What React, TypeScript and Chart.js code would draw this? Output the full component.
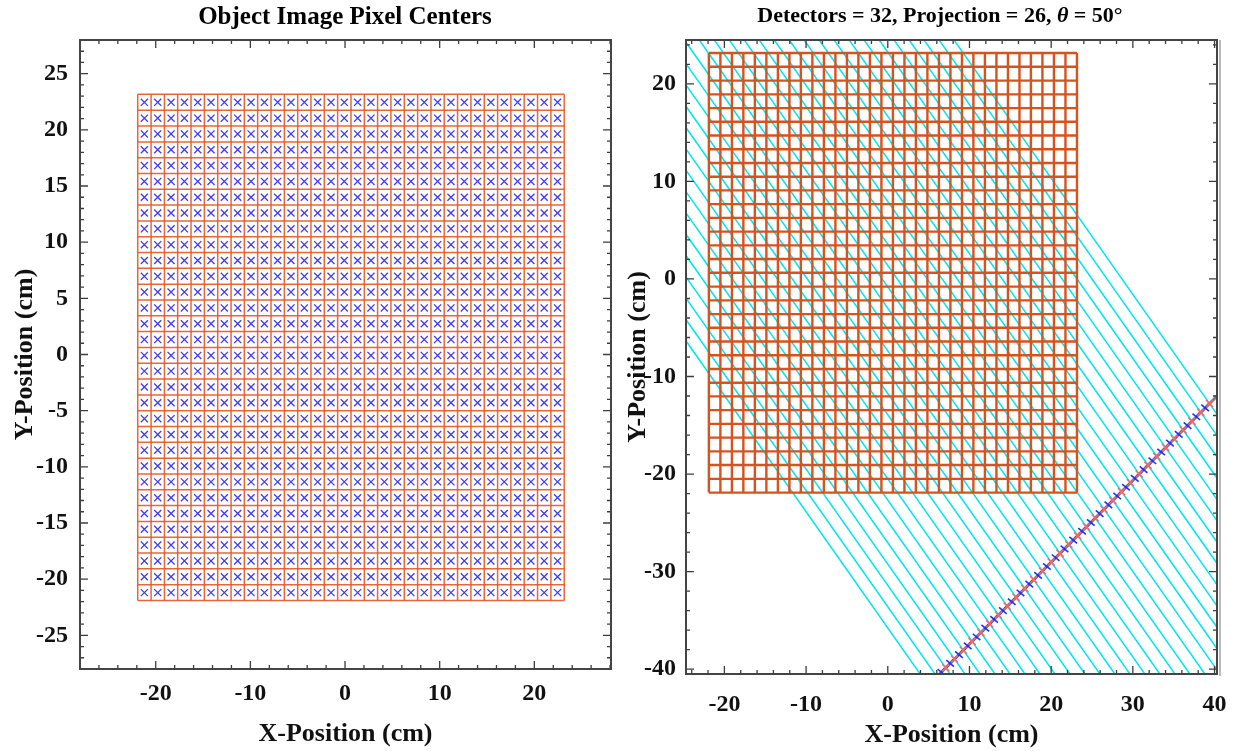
import React, { useEffect, useRef } from "react";
import { Chart, registerables } from "chart.js";

Chart.register(...registerables);

// ---------- data ----------
const gridEdges = [
  -21.9, -20.49, -19.08, -17.68, -16.27, -14.86, -13.45, -12.04, -10.64, -9.23, -7.82,
  -6.41, -5.0, -3.6, -2.19, -0.78, 0.63, 2.04, 3.44, 4.85, 6.26, 7.67, 9.08, 10.48,
  11.89, 13.3, 14.71, 16.12, 17.52, 18.93, 20.34, 21.75, 23.16,
];
const pixelCenters = [
  -21.2, -19.79, -18.38, -16.97, -15.56, -14.16, -12.75, -11.34, -9.93, -8.52, -7.12,
  -5.71, -4.3, -2.89, -1.48, -0.08, 1.33, 2.74, 4.15, 5.56, 6.96, 8.37, 9.78, 11.19,
  12.6, 14.0, 15.41, 16.82, 18.23, 19.64, 21.04, 22.45,
];
const leftXTicks = [-20, -10, 0, 10, 20];
const leftYTicks = [-25, -20, -15, -10, -5, 0, 5, 10, 15, 20, 25];
const rightXTicks = [-20, -10, 0, 10, 20, 30, 40];
const rightYTicks = [-40, -30, -20, -10, 0, 10, 20];

const detectorCount = 32;
const projectionIndex = 26;
const thetaDeg = 50;
const detectorDistance = 35.1;
// positions along the detector (cm), boundaries and centers
const detectorEdges = [
  -23.0, -21.6, -20.19, -18.79, -17.38, -15.98, -14.57, -13.17, -11.76, -10.36, -8.95,
  -7.55, -6.14, -4.74, -3.33, -1.93, -0.52, 0.89, 2.29, 3.7, 5.1, 6.51, 7.91, 9.32,
  10.72, 12.13, 13.53, 14.94, 16.34, 17.75, 19.15, 20.56, 21.96,
];
const detectorCenters = [
  -22.3, -20.89, -19.49, -18.08, -16.68, -15.27, -13.87, -12.46, -11.06, -9.65, -8.25,
  -6.84, -5.44, -4.03, -2.63, -1.22, 0.18, 1.59, 2.99, 4.4, 5.8, 7.21, 8.61, 10.02,
  11.42, 12.83, 14.23, 15.64, 17.04, 18.45, 19.85, 21.26,
];
const detectorLineSpan = [-24.4, 23.4];
const raySpan = [-100, 100];

// ---------- helpers ----------
const SERIF = '"Liberation Serif", "Times New Roman", serif';
const th = (thetaDeg * Math.PI) / 180;
const U = { x: Math.sin(th), y: Math.cos(th) }; // along detector
const N = { x: Math.cos(th), y: -Math.sin(th) }; // ray direction
const at = (u: number, t: number) => ({ x: u * U.x + t * N.x, y: u * U.y + t * N.y });

const framePlugin = {
  id: "frameTicks",
  afterDatasetsDraw(chart: any, _args: any, opts: any) {
    const { ctx, chartArea: a, scales } = chart;
    const xs = scales.x;
    const ys = scales.y;
    ctx.save();
    ctx.strokeStyle = "#3c3c3c";
    ctx.lineWidth = 1.3;
    const isMajor = (v: number, m: number) => Math.abs(v / m - Math.round(v / m)) < 1e-6;
    for (let k = Math.ceil(xs.min / opts.xMinor); k * opts.xMinor <= xs.max + 1e-9; k++) {
      const v = k * opts.xMinor;
      const p = xs.getPixelForValue(v);
      const len = isMajor(v, opts.xMajor) ? 8 : 4;
      ctx.beginPath();
      ctx.moveTo(p, a.bottom);
      ctx.lineTo(p, a.bottom - len);
      ctx.moveTo(p, a.top);
      ctx.lineTo(p, a.top + len);
      ctx.stroke();
    }
    for (let k = Math.ceil(ys.min / opts.yMinor); k * opts.yMinor <= ys.max + 1e-9; k++) {
      const v = k * opts.yMinor;
      const p = ys.getPixelForValue(v);
      const len = isMajor(v, opts.yMajor) ? 8 : 4;
      ctx.beginPath();
      ctx.moveTo(a.left, p);
      ctx.lineTo(a.left + len, p);
      ctx.moveTo(a.right, p);
      ctx.lineTo(a.right - len, p);
      ctx.stroke();
    }
    ctx.lineWidth = 2;
    ctx.strokeStyle = "#444";
    ctx.strokeRect(a.left, a.top, a.right - a.left, a.bottom - a.top);
    if (opts.shadow) {
      ctx.lineWidth = 2;
      ctx.strokeStyle = "#bbb";
      ctx.beginPath();
      ctx.moveTo(a.right + 3, a.top);
      ctx.lineTo(a.right + 3, a.bottom + 2);
      ctx.stroke();
    }
    ctx.restore();
  },
};

const titlePlugin = {
  id: "richTitle",
  afterDraw(chart: any, _args: any, opts: any) {
    const { ctx } = chart;
    ctx.save();
    const f = (s: any) => `${s.italic ? "italic " : ""}bold ${opts.size}px ${SERIF}`;
    let total = 0;
    for (const s of opts.segments) {
      ctx.font = f(s);
      total += ctx.measureText(s.text).width;
    }
    let x = opts.x - total / 2;
    ctx.textBaseline = "middle";
    ctx.fillStyle = "#000";
    for (const s of opts.segments) {
      ctx.font = f(s);
      ctx.fillText(s.text, x, opts.y);
      x += ctx.measureText(s.text).width;
    }
    ctx.restore();
  },
};

const tickFont = { family: SERIF, size: 24, weight: "bold" as const };
const axisTitleFont = { family: SERIF, size: 26, weight: "bold" as const };

function axes(
  xr: number[], yr: number[], xt: number[], yt: number[],
  yWidth: number, xHeight: number, xPad: number, yPad: number, yTitlePad: number, xTitlePad: number,
) {
  return {
    x: {
      type: "linear" as const,
      min: xr[0],
      max: xr[1],
      grid: { display: false },
      border: { display: false },
      afterBuildTicks: (s: any) => { s.ticks = xt.map((v) => ({ value: v })); },
      afterFit: (s: any) => { s.height = xHeight; },
      ticks: { font: tickFont, color: "#111", padding: xPad, maxRotation: 0, autoSkip: false },
      title: { display: true, text: "X-Position (cm)", font: axisTitleFont, color: "#111", padding: { top: 0, bottom: xTitlePad } },
    },
    y: {
      type: "linear" as const,
      min: yr[0],
      max: yr[1],
      grid: { display: false },
      border: { display: false },
      afterBuildTicks: (s: any) => { s.ticks = yt.map((v) => ({ value: v })); },
      afterFit: (s: any) => { s.width = yWidth; },
      ticks: { font: tickFont, color: "#111", padding: yPad, autoSkip: false },
      title: { display: true, text: "Y-Position (cm)", font: axisTitleFont, color: "#111", padding: { top: yTitlePad, bottom: 0 } },
    },
  };
}

function lineDs(points: { x: number; y: number }[], color: string, width: number) {
  return {
    data: points,
    showLine: true,
    borderColor: color,
    borderWidth: width,
    pointRadius: 0,
    fill: false,
    clip: 0,
  };
}

function leftConfig(): any {
  const g0 = gridEdges[0];
  const g1 = gridEdges[gridEdges.length - 1];
  const gridColor = "rgba(228,86,38,0.9)";
  const markers = {
    data: pixelCenters.flatMap((y) => pixelCenters.map((x) => ({ x, y }))),
    showLine: false,
    pointStyle: "crossRot",
    pointRadius: 5,
    pointBorderWidth: 1.3,
    borderColor: "rgb(60,60,245)",
    backgroundColor: "rgb(60,60,245)",
    clip: 0,
  };
  const vLines = gridEdges.map((e) => lineDs([{ x: e, y: g0 }, { x: e, y: g1 }], gridColor, 1.5));
  const hLines = gridEdges.map((e) => lineDs([{ x: g0, y: e }, { x: g1, y: e }], gridColor, 1.5));
  return {
    type: "scatter",
    data: { datasets: [markers, ...vLines, ...hLines] },
    options: {
      responsive: false,
      animation: false,
      events: [],
      layout: { padding: { top: 40, right: 9, left: 0, bottom: 0 } },
      scales: axes([-28.0, 28.1], [-28, 28], leftXTicks, leftYTicks, 80, 82, 2, 4, 10, 1),
      plugins: {
        legend: { display: false },
        tooltip: { enabled: false },
        frameTicks: { xMajor: 10, xMinor: 2, yMajor: 5, yMinor: 1 },
        richTitle: { x: 345, y: 18, size: 25, segments: [{ text: "Object Image Pixel Centers" }] },
      },
    },
    plugins: [framePlugin, titlePlugin],
  };
}

function rightConfig(): any {
  const g0 = gridEdges[0];
  const g1 = gridEdges[gridEdges.length - 1];
  const gridColor = "rgb(214,82,30)";
  const vLines = gridEdges.map((e) => lineDs([{ x: e, y: g0 }, { x: e, y: g1 }], gridColor, 2.4));
  const hLines = gridEdges.map((e) => lineDs([{ x: g0, y: e }, { x: g1, y: e }], gridColor, 2.4));
  const redMarks = {
    data: detectorEdges.map((u) => at(u, detectorDistance)),
    showLine: false,
    pointStyle: "crossRot",
    pointRadius: 5,
    pointBorderWidth: 1.5,
    borderColor: "rgb(255,100,100)",
    clip: 0,
  };
  const blueMarks = {
    data: detectorCenters.map((u) => at(u, detectorDistance)),
    showLine: false,
    pointStyle: "cross",
    pointRotation: 40,
    pointRadius: 5,
    pointBorderWidth: 1.6,
    borderColor: "rgb(30,50,255)",
    clip: 0,
  };
  const detLine = lineDs(
    [at(detectorLineSpan[0], detectorDistance), at(detectorLineSpan[1], detectorDistance)],
    "rgb(118,128,140)",
    3,
  );
  const rays = detectorEdges.map((u) =>
    lineDs([at(u, raySpan[0]), at(u, raySpan[1])], "rgb(0,228,238)", 1.5),
  );
  return {
    type: "scatter",
    data: { datasets: [...vLines, ...hLines, redMarks, blueMarks, detLine, ...rays] },
    options: {
      responsive: false,
      animation: false,
      events: [],
      layout: { padding: { top: 40, right: 23, left: 0, bottom: 0 } },
      scales: axes([-24.7, 40.3], [-40.5, 24.5], rightXTicks, rightYTicks, 66, 77, 8, 2, 3, 0),
      plugins: {
        legend: { display: false },
        tooltip: { enabled: false },
        frameTicks: { xMajor: 10, xMinor: 2, yMajor: 10, yMinor: 2, shadow: true },
        richTitle: {
          x: 320,
          y: 16,
          size: 22,
          segments: [
            { text: `Detectors = ${detectorCount}, Projection = ${projectionIndex}, ` },
            { text: "θ", italic: true },
            { text: ` = ${thetaDeg}°` },
          ],
        },
      },
    },
    plugins: [framePlugin, titlePlugin],
  };
}

export default function App() {
  const leftRef = useRef<HTMLCanvasElement>(null);
  const rightRef = useRef<HTMLCanvasElement>(null);
  useEffect(() => {
    const c1 = new Chart(leftRef.current as HTMLCanvasElement, leftConfig());
    const c2 = new Chart(rightRef.current as HTMLCanvasElement, rightConfig());
    return () => {
      c1.destroy();
      c2.destroy();
    };
  }, []);
  return (
    <div style={{ position: "fixed", left: 0, top: 0, width: 1240, height: 751, background: "#fff" }}>
      <canvas ref={leftRef} width={620} height={751} style={{ position: "absolute", left: 0, top: 0 }} />
      <canvas ref={rightRef} width={620} height={751} style={{ position: "absolute", left: 620, top: 0 }} />
    </div>
  );
}
